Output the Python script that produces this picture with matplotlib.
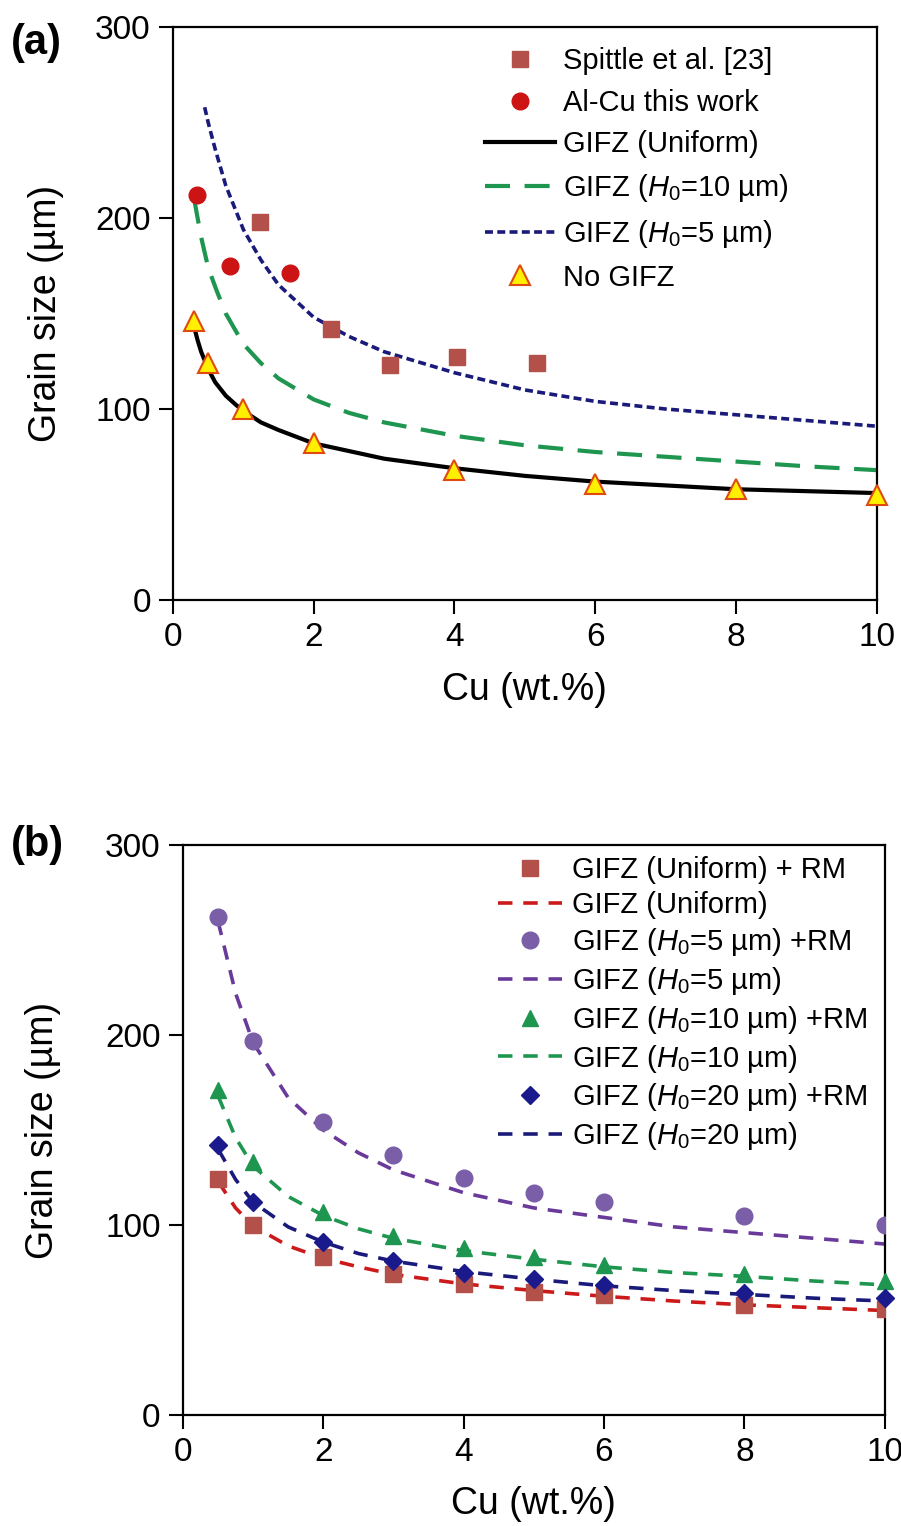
import matplotlib
matplotlib.use('Agg')
import matplotlib.pyplot as plt

plt.rcParams['font.family'] = ['Liberation Sans', 'DejaVu Sans']
plt.rcParams['mathtext.fontset'] = 'custom'
plt.rcParams['mathtext.it'] = 'Liberation Sans:italic'
plt.rcParams['mathtext.rm'] = 'Liberation Sans'

# ---- panel (a) data ----
spittle_x = [1.24, 2.24, 3.08, 4.03, 5.18]
spittle_y = [198, 142, 123, 127, 124]
alcu_x = [0.34, 0.81, 1.66]
alcu_y = [212, 175, 171]
nogifz_x = [0.3, 0.5, 1, 2, 4, 6, 8, 10]
nogifz_y = [146, 124, 100, 82, 68, 61, 58, 55]

uni_x = [0.3, 0.35, 0.4, 0.5, 0.6, 0.75, 0.9, 1, 1.25, 1.5, 2, 2.5, 3, 4, 5, 6, 7, 8, 9, 10]
uni_y = [143, 136, 130, 121, 114, 107, 102, 99, 93, 89, 82, 78, 74, 69, 65, 62, 60, 58, 57, 56]
h10_x = [0.3, 0.4, 0.5, 0.62, 0.75, 1, 1.25, 1.5, 2, 2.5, 3, 4, 5, 6, 7, 8, 9, 10]
h10_y = [210, 190, 174, 162, 150, 134, 124, 116, 105, 98, 93, 86, 81, 77.5, 75, 72.5, 70, 68]
h5_x = [0.45, 0.5, 0.6, 0.75, 1, 1.25, 1.5, 2, 2.5, 3, 4, 5, 6, 7, 8, 9, 10]
h5_y = [258, 250, 236, 217, 194, 178, 165, 148, 138, 130, 119, 110, 104, 100, 97, 94, 91]

# ---- panel (b) data ----
cu_b = [0.5, 1, 2, 3, 4, 5, 6, 8, 10]
rm_uni = [124, 100, 83, 74, 69, 65, 63, 58, 56]
rm_h5 = [262, 197, 154, 137, 125, 117, 112, 105, 100]
rm_h10 = [171, 133, 107, 94, 88, 83, 79, 74, 70.5]
rm_h20 = [142, 112, 91, 81, 75, 71.5, 68.4, 64, 61.5]

line_x = [0.5, 0.75, 1, 1.5, 2, 2.5, 3, 4, 5, 6, 7, 8, 9, 10]
line_uni = [123, 109, 99.5, 89, 82.5, 78, 74, 69, 65.5, 62.5, 60, 58, 56.5, 55]
line_h5 = [260, 222, 196, 167, 150, 138, 129, 117, 109, 104, 99, 96, 93, 90]
line_h10 = [168, 146, 131, 115, 105, 98, 93, 86.5, 82, 78, 75, 73, 70.5, 68.5]
line_h20 = [140, 124, 112, 99, 91, 85, 81, 75.5, 71.5, 68, 65.5, 63.5, 61.5, 60]

fig = plt.figure(figsize=(9.01, 15.26), dpi=100)
axa = fig.add_axes([0.192, 0.6068, 0.781, 0.3755])
axb = fig.add_axes([0.203, 0.0727, 0.779, 0.3736])

h0 = r'$\mathit{H_0}$'

# panel (a)
axa.plot(spittle_x, spittle_y, 's', color='#b3504a', ms=12, mec='#b3504a',
         label='Spittle et al. [23]', zorder=4)
axa.plot(alcu_x, alcu_y, 'o', color='#cc1414', ms=12, label='Al-Cu this work', zorder=4)
axa.plot(uni_x, uni_y, '-', color='black', lw=3, label='GIFZ (Uniform)')
axa.plot(h10_x, h10_y, color='#1e9650', lw=3, dashes=(6, 3.5),
         label='GIFZ (' + h0 + '=10 µm)')
axa.plot(h5_x, h5_y, color='#1a1a7a', lw=2.6, dashes=(2.2, 1.2),
         label='GIFZ (' + h0 + '=5 µm)')
axa.plot(nogifz_x, nogifz_y, '^', color='#ffef00', mec='#e04a10', mew=1.5, ms=15,
         label='No GIFZ', zorder=5, clip_on=False)

# panel (b)
axb.plot(cu_b, rm_uni, 's', color='#b3504a', ms=11, label='GIFZ (Uniform) + RM', zorder=4)
axb.plot(line_x, line_uni, color='#cc1a1a', lw=2.6, dashes=(4, 3), label='GIFZ (Uniform)')
axb.plot(cu_b, rm_h5, 'o', color='#7a5ea8', ms=12,
         label='GIFZ (' + h0 + '=5 µm) +RM', zorder=4)
axb.plot(line_x, line_h5, color='#6a3a9a', lw=2.6, dashes=(4, 3),
         label='GIFZ (' + h0 + '=5 µm)')
axb.plot(cu_b, rm_h10, '^', color='#1e9650', ms=12,
         label='GIFZ (' + h0 + '=10 µm) +RM', zorder=4, clip_on=False)
axb.plot(line_x, line_h10, color='#1e9650', lw=2.6, dashes=(4, 3),
         label='GIFZ (' + h0 + '=10 µm)')
axb.plot(cu_b, rm_h20, 'D', color='#1a1a8c', ms=9,
         label='GIFZ (' + h0 + '=20 µm) +RM', zorder=4, clip_on=False)
axb.plot(line_x, line_h20, color='#1a1a7a', lw=2.6, dashes=(4, 3),
         label='GIFZ (' + h0 + '=20 µm)')

for ax in (axa, axb):
    ax.set_xlim(0, 10)
    ax.set_ylim(0, 300)
    ax.set_xticks([0, 2, 4, 6, 8, 10])
    ax.set_yticks([0, 100, 200, 300])
    ax.tick_params(direction='out', length=10, width=1.5, labelsize=24, pad=6)
    for s in ax.spines.values():
        s.set_linewidth(1.6)
    ax.set_xlabel('Cu (wt.%)', fontsize=27)
    ax.set_ylabel('Grain size (µm)', fontsize=27)

axa.xaxis.set_label_coords(0.5, -0.126)
axa.yaxis.set_label_coords(-0.155, 0.5)
axb.xaxis.set_label_coords(0.5, -0.124)
axb.yaxis.set_label_coords(-0.174, 0.5)

axa.legend(loc='upper left', bbox_to_anchor=(0.443, 0.965), frameon=False,
           fontsize=21, handlelength=2.4, handletextpad=0.3, labelspacing=0.47,
           borderaxespad=0, borderpad=0)
axb.legend(loc='upper left', bbox_to_anchor=(0.449, 0.98), frameon=False,
           fontsize=21, handlelength=2.2, handletextpad=0.35, labelspacing=0.235,
           borderaxespad=0, borderpad=0)

fig.text(0.04, 0.972, '(a)', fontsize=30, fontweight='bold', ha='center', va='center')
fig.text(0.042, 0.446, '(b)', fontsize=30, fontweight='bold', ha='center', va='center')

fig.savefig('out.png', dpi=100)
